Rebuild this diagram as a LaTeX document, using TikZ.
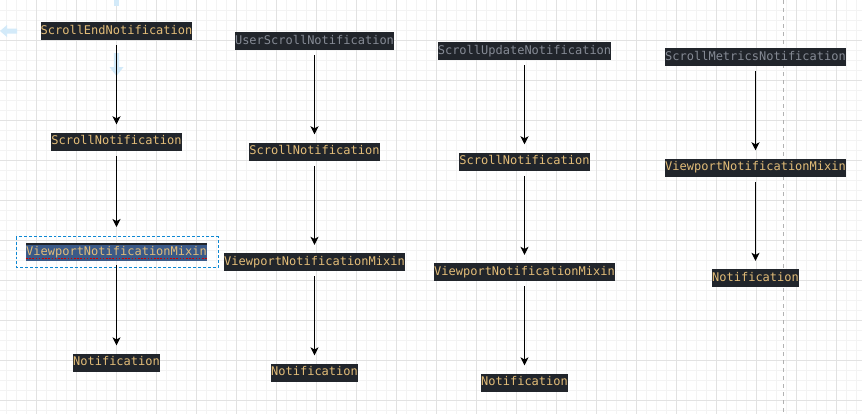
\documentclass[tikz,border=0pt]{standalone}
\usepackage{fontspec}
\setmonofont{DejaVu Sans Mono}
\usetikzlibrary{arrows.meta,positioning}
\definecolor{codebg}{HTML}{21252B}
\definecolor{codegold}{HTML}{E2BC78}
\definecolor{codegrey}{HTML}{858A94}
\definecolor{selblue}{HTML}{3B5A88}
\definecolor{hoverblue}{HTML}{D3EAF9}
\definecolor{gridmin}{HTML}{F3F3F3}
\definecolor{gridmaj}{HTML}{E2E2E2}

\begin{document}
\begin{tikzpicture}[
  x=0.75pt, y=-0.75pt,
  cls/.style={fill=codebg, text=codegold, inner xsep=0pt, inner ysep=0pt,
    minimum height=13.5pt, text height=7pt, text depth=2pt,
    font=\ttfamily\fontsize{9pt}{10pt}\selectfont},
  dimcls/.style={cls, text=codegrey},
  inherit/.style={-{Stealth[length=6pt, width=6pt, inset=1.6pt]}, line width=0.75pt,
    shorten <=3.75pt, shorten >=6pt},
  gridminor/.style={gridmin, line width=0.75pt},
  gridmajor/.style={gridmaj, line width=0.75pt},
  node distance=69pt,
]
  \useasboundingbox (0,0) rectangle (862,414);
  \fill[white] (0,0) rectangle (862,414);

  % Grid
  \foreach \gx in {0,...,85}
    \draw[gridminor] ({6.7+10*\gx},0) -- ({6.7+10*\gx},414);
  \foreach \gy in {1,...,41}
    \draw[gridminor] (0,{10*\gy}) -- (862,{10*\gy});
  \foreach \gx in {1,...,21}
    \draw[gridmajor] ({-3.3+40*\gx},0) -- ({-3.3+40*\gx},414);
  \foreach \gy in {1,...,10}
    \draw[gridmajor] (0,{40*\gy}) -- (862,{40*\gy});
  \draw[gray!60, line width=0.75pt, dash pattern=on 3pt off 3pt] (783.3,0) -- (783.3,414);

  % Hover arrows
  \fill[hoverblue] (0,31) -- (7,25) -- (7,28.5) -- (17,28.5) -- (17,33.5) -- (7,33.5) -- (7,37) -- cycle;
  \fill[hoverblue] (113.8,0) rectangle (119.2,6);
  \fill[hoverblue] (113.8,53) -- (119.2,53) -- (119.2,67) -- (123.5,67) -- (116.5,76) -- (109.5,67) -- (113.8,67) -- cycle;

  % Column 1
  \node[cls] (endA) at (116.5,31) {ScrollEndNotification};
  \node[cls, below=of endA] (scrollA) {ScrollNotification};
  \node[cls, below=of scrollA] (mixinA) {ViewportNotificationMixin};
  \node[cls, below=of mixinA] (noteA) {Notification};
  \fill[selblue] ([yshift=-1.9pt]mixinA.north west) rectangle (mixinA.south east);
  \node[cls, fill=none] at (mixinA) {ViewportNotificationMixin};
  \draw[red!80!black, line width=1pt, dash pattern=on 1.2pt off 1.2pt]
    ([yshift=2pt]mixinA.south west) -- ([yshift=2pt]mixinA.south east);
  \draw[cyan!70!blue, line width=0.6pt, dash pattern=on 2.2pt off 1.5pt]
    ([xshift=-7.2pt, yshift=4.5pt]mixinA.north west) rectangle ([xshift=8.2pt, yshift=-4.5pt]mixinA.south east);

  % Column 2
  \node[dimcls] (userB) at (314.5,41) {UserScrollNotification};
  \node[cls, below=of userB] (scrollB) {ScrollNotification};
  \node[cls, below=of scrollB] (mixinB) {ViewportNotificationMixin};
  \node[cls, below=of mixinB] (noteB) {Notification};

  % Column 3
  \node[dimcls] (updateC) at (524.5,51) {ScrollUpdateNotification};
  \node[cls, below=of updateC] (scrollC) {ScrollNotification};
  \node[cls, below=of scrollC] (mixinC) {ViewportNotificationMixin};
  \node[cls, below=of mixinC] (noteC) {Notification};

  % Column 4
  \node[dimcls] (metricsD) at (755.5,57) {ScrollMetricsNotification};
  \node[cls, below=of metricsD] (mixinD) {ViewportNotificationMixin};
  \node[cls, below=of mixinD] (noteD) {Notification};

  % Inheritance
  \draw[inherit] (endA) -- (scrollA);
  \draw[inherit] (scrollA) -- (mixinA.north |- 0,235);
  \draw[inherit, shorten <=0pt] (mixinA.south |- 0,265) -- (noteA);
  \draw[inherit] (userB) -- (scrollB);
  \draw[inherit] (scrollB) -- (mixinB);
  \draw[inherit] (mixinB) -- (noteB);
  \draw[inherit] (updateC) -- (scrollC);
  \draw[inherit] (scrollC) -- (mixinC);
  \draw[inherit] (mixinC) -- (noteC);
  \draw[inherit] (metricsD) -- (mixinD);
  \draw[inherit] (mixinD) -- (noteD);
\end{tikzpicture}
\end{document}
